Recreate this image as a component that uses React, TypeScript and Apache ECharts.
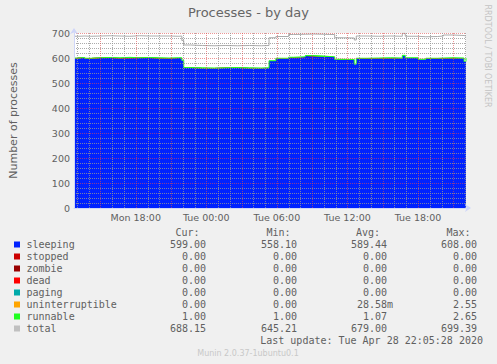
import { useEffect, useRef } from "react";
import * as echarts from "echarts";

// time in minutes since Monday 2020-04-27 00:00
const times = [
  765, 790, 820, 850, 900, 950, 1000, 1050, 1100, 1150, 1200, 1250, 1300, 1315, 1325,
  1360, 1420, 1480, 1540, 1600, 1660, 1720, 1760, 1795, 1860, 1885, 1945, 1990, 2040,
  2070, 2095, 2140, 2195, 2205, 2260, 2320, 2380, 2440, 2455, 2520, 2560, 2620, 2650,
  2700, 2755, 2765,
];
const sleeping = [
  599, 601, 598, 600, 601, 600, 599, 600, 601, 600, 599, 600, 600, 590, 561,
  560, 559, 560, 561, 560, 559, 560, 588, 598, 602, 604, 608, 607, 605,
  604, 594, 593, 575, 598, 599, 600, 599, 608, 600, 594, 598, 599, 600,
  599, 585, 599,
];
const stopped = [
  0, 0, 0, 0, 0, 0, 0, 0, 0, 0, 0, 0, 0, 0, 0,
  0, 0, 0, 0, 0, 0, 0, 0, 0, 0, 0, 0, 0, 0,
  0, 0, 0, 0, 0, 0, 0, 0, 0, 0, 0, 0, 0, 0,
  0, 0, 0,
];
const zombie = [
  0, 0, 0, 0, 0, 0, 0, 0, 0, 0, 0, 0, 0, 0, 0,
  0, 0, 0, 0, 0, 0, 0, 0, 0, 0, 0, 0, 0, 0,
  0, 0, 0, 0, 0, 0, 0, 0, 0, 0, 0, 0, 0, 0,
  0, 0, 0,
];
const dead = [
  0, 0, 0, 0, 0, 0, 0, 0, 0, 0, 0, 0, 0, 0, 0,
  0, 0, 0, 0, 0, 0, 0, 0, 0, 0, 0, 0, 0, 0,
  0, 0, 0, 0, 0, 0, 0, 0, 0, 0, 0, 0, 0, 0,
  0, 0, 0,
];
const paging = [
  0, 0, 0, 0, 0, 0, 0, 0, 0, 0, 0, 0, 0, 0, 0,
  0, 0, 0, 0, 0, 0, 0, 0, 0, 0, 0, 0, 0, 0,
  0, 0, 0, 0, 0, 0, 0, 0, 0, 0, 0, 0, 0, 0,
  0, 0, 0,
];
const uninterruptible = [
  0, 0, 0, 0, 0, 0, 2.55, 0, 0, 0, 0, 0, 0, 0, 0,
  0, 0, 0, 0, 0, 0, 0, 0, 0, 0, 0, 0, 0, 0,
  0, 0, 0, 0, 0, 0, 0, 0, 0, 0, 0, 0, 0, 0,
  0, 0, 0,
];
const runnable = [
  1, 1, 1, 1, 1, 1, 1, 1, 1, 1, 1, 1, 1, 1, 1,
  1, 1, 1, 1, 1, 1, 1, 1, 1, 1, 1, 2, 1, 1,
  1, 1, 1, 1, 1, 1, 1, 1, 2.65, 1, 1, 1, 1, 1,
  1, 1, 1,
];
const total = [
  687, 688, 687, 688, 689, 688, 687, 689, 688, 688, 688, 687, 688, 670, 652,
  650, 649, 650, 649, 650, 649, 650, 681, 686, 694, 695, 696, 695, 694,
  694, 681, 680, 672, 688, 687, 688, 687, 699, 687, 685, 686, 688, 692,
  690, 688, 688,
];

const xStart = 765; // Mon 12:45
const xEnd = 2765; // Tue 22:05
const yMax = 700;
const xLabelValues = [1080, 1440, 1800, 2160, 2520];
const dayNames = ["Mon", "Tue"];

const legendNames = ["sleeping", "stopped", "zombie", "dead", "paging", "uninterruptible", "runnable", "total"];
const legendColors = ["#0022FF", "#CC0000", "#990000", "#FF0000", "#00AAAA", "#FFA500", "#22FF22", "#C0C0C0"];
const curVals = ["599.00", "0.00", "0.00", "0.00", "0.00", "0.00", "1.00", "688.15"];
const minVals = ["558.10", "0.00", "0.00", "0.00", "0.00", "0.00", "1.00", "645.21"];
const avgVals = ["589.44", "0.00", "0.00", "0.00", "0.00", "28.58m", "1.07", "679.00"];
const maxVals = ["608.00", "0.00", "0.00", "0.00", "0.00", "2.55", "2.65", "699.39"];

const FONT = '"DejaVu Sans", sans-serif';
const MONO = '"DejaVu Sans Mono", monospace';
const TXT = "#606060";
const GRID_MINOR = "rgba(150,150,150,0.8)";
const GRID_MAJOR = "rgba(222,79,79,0.6)";

export default function App() {
  const ref = useRef<HTMLDivElement>(null);
  useEffect(() => {
    if (!ref.current) return;
    const chart = echarts.init(ref.current, null, { renderer: "svg" });
    // value first, time second: ECharts stacks the first numeric dimension
    const pairs = (arr: number[]) => times.map((t, i) => [arr[i], t]);
    const hourTicks: number[] = [];
    for (let h = Math.ceil(xStart / 60) * 60; h <= xEnd; h += 60) hourTicks.push(h);
    const stackNames = ["sleeping", "stopped", "zombie", "dead", "paging", "uninterruptible", "runnable"];
    const stackData = [sleeping, stopped, zombie, dead, paging, uninterruptible, runnable];

    const series: any[] = stackNames.map((name, i) => ({
      name,
      type: "line",
      stack: "procs",
      step: "end",
      symbol: "none",
      silent: true,
      encode: { x: 1, y: 0 },
      data: pairs(stackData[i]),
      lineStyle: name === "runnable" ? { width: 1, color: legendColors[i] } : { width: 0, color: legendColors[i] },
      areaStyle: { color: legendColors[i], opacity: 1 },
      z: -1,
    }));
    series.push({
      name: "total",
      type: "line",
      step: "end",
      symbol: "none",
      silent: true,
      encode: { x: 1, y: 0 },
      data: pairs(total),
      lineStyle: { width: 1, color: "#aaaaaa" },
      z: -1,
    });
    // vertical grid: hourly grey, every 3 hours red, drawn above the areas
    series.push({
      name: "vgrid",
      type: "custom",
      silent: true,
      clip: false,
      z: 5,
      encode: { x: 0, y: 1 },
      data: hourTicks.map((h) => [h, 0]),
      renderItem: (_params: any, api: any) => {
        const h = api.value(0);
        const top = api.coord([h, yMax]);
        const bottom = api.coord([h, 0]);
        const x = Math.round(top[0]) + 0.5;
        return {
          type: "line",
          shape: { x1: x, y1: top[1], x2: x, y2: bottom[1] },
          style: { stroke: (h / 60) % 3 === 0 ? GRID_MAJOR : GRID_MINOR, lineWidth: 1, lineDash: [1, 1], fill: null },
        };
      },
    });

    const graphic: any[] = [];
    const hdrY = 232.5;
    const txt = (x: number, y: number, text: string, align: string) => ({
      type: "text",
      x,
      y,
      style: { text, font: `10px ${MONO}`, fill: TXT, textAlign: align, textVerticalAlign: "middle" },
    });
    graphic.push(txt(199.5, hdrY, "Cur:", "right"));
    graphic.push(txt(290.5, hdrY, "Min:", "right"));
    graphic.push(txt(380, hdrY, "Avg:", "right"));
    graphic.push(txt(470.5, hdrY, "Max:", "right"));
    legendNames.forEach((name, i) => {
      const cy = 244.5 + i * 12;
      graphic.push({ type: "rect", shape: { x: 14, y: cy - 3, width: 6, height: 6 }, style: { fill: legendColors[i] } });
      graphic.push(txt(26.5, cy, name, "left"));
      const cols: [string[], number][] = [[curVals, 206], [minVals, 297], [avgVals, 387], [maxVals, 477]];
      cols.forEach(([vals, rx]) => {
        const s = vals[i];
        const hasSuffix = /[a-zA-Z]$/.test(s);
        graphic.push(txt(hasSuffix ? rx + 6 : rx, cy, s, "right"));
      });
    });
    graphic.push(txt(483, 340.5, "Last update: Tue Apr 28 22:05:28 2020", "right"));
    graphic.push({ type: "text", x: 248, y: 353, style: { text: "Munin 2.0.37-1ubuntu0.1", font: `8px ${FONT}`, fill: "#c8c8c8", textAlign: "center", textVerticalAlign: "middle" } });
    graphic.push({ type: "text", x: 487, y: 56, rotation: -Math.PI / 2, style: { text: "RRDTOOL / TOBI OETIKER", font: `8px ${FONT}`, fill: "#c4c4c4", textAlign: "center", textVerticalAlign: "middle" } });

    chart.setOption({
      animation: false,
      backgroundColor: "#F0F0F0",
      title: {
        text: "Processes - by day",
        left: "center",
        top: 1,
        textStyle: { fontFamily: FONT, fontSize: 13, fontWeight: "normal", color: "#666666" },
      },
      grid: { left: 66, right: 31, top: 33, bottom: 156, show: true, backgroundColor: "#FFFFFF", borderWidth: 0, z: -5 },
      xAxis: {
        type: "value",
        min: xStart,
        max: xEnd,
        z: 6,
        axisLine: { show: true, lineStyle: { color: "#CFD6F8", width: 1 }, symbol: ["none", "arrow"], symbolSize: [6, 6], symbolOffset: [0, 5] },
        axisTick: { show: false },
        axisLabel: {
          customValues: xLabelValues,
          margin: 4,
          fontFamily: FONT,
          fontSize: 9.5,
          color: TXT,
          formatter: (v: number) =>
            `${dayNames[Math.floor(v / 1440)]} ${String(Math.floor((v % 1440) / 60)).padStart(2, "0")}:00`,
        },
        splitLine: { show: false },
      },
      yAxis: {
        type: "value",
        min: 0,
        max: yMax,
        interval: 100,
        z: 5,
        name: "Number of processes",
        nameLocation: "middle",
        nameRotate: 90,
        nameGap: 55,
        nameTextStyle: { fontFamily: FONT, fontSize: 11, color: TXT },
        axisLine: { show: true, lineStyle: { color: "#CFD6F8", width: 1 }, symbol: ["none", "arrow"], symbolSize: [6, 6], symbolOffset: [0, 5] },
        axisTick: { show: false },
        axisLabel: { margin: 4, fontFamily: FONT, fontSize: 9.5, color: TXT },
        splitLine: { show: true, lineStyle: { color: GRID_MAJOR, type: [1, 1], width: 1 } },
        minorTick: { show: false, splitNumber: 5 },
        minorSplitLine: { show: true, lineStyle: { color: GRID_MINOR, type: [1, 1], width: 1 } },
      },
      series,
      graphic,
    });
    return () => chart.dispose();
  }, []);
  return <div ref={ref} style={{ position: "fixed", left: 0, top: 0, width: 497, height: 364 }} />;
}
